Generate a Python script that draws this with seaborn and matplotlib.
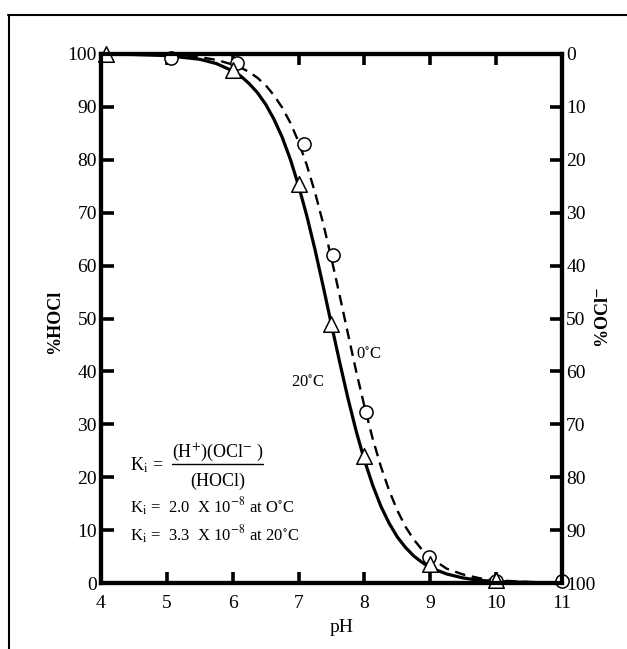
import numpy as np
import pandas as pd
import matplotlib
matplotlib.use("Agg")
import matplotlib.pyplot as plt
from matplotlib.lines import Line2D
import seaborn as sns

sns.set_style("ticks")
plt.rcParams["font.family"] = ["Liberation Serif", "DejaVu Serif"]
plt.rcParams["mathtext.fontset"] = "stix"
for k in ["text.color", "axes.labelcolor", "xtick.color", "ytick.color",
          "axes.edgecolor"]:
    plt.rcParams[k] = "black"

# ---- data ----
ph_curve = [4.0, 4.5, 5.0, 5.5, 5.75, 6.0, 6.125, 6.25, 6.375, 6.5, 6.625,
            6.75, 6.875, 7.0, 7.125, 7.25, 7.375, 7.5, 7.625, 7.75, 7.875,
            8.0, 8.125, 8.25, 8.375, 8.5, 8.625, 8.75, 8.875, 9.0, 9.25,
            9.5, 9.75, 10.0, 10.5, 11.0]
hocl_20c_curve = [100.0, 99.9, 99.7, 99.0, 98.2, 96.8, 95.8, 94.4, 92.7, 90.5,
                  87.7, 84.3, 80.1, 75.1, 69.4, 63.0, 56.0, 48.8, 41.7, 34.9,
                  28.7, 23.2, 18.5, 14.5, 11.3, 8.7, 6.7, 5.1, 3.9, 2.9, 1.7,
                  0.95, 0.5, 0.3, 0.1, 0.0]
hocl_0c_curve = [100.0, 99.9, 99.8, 99.4, 98.9, 98.0, 97.4, 96.6, 95.5, 94.1,
                 92.2, 89.9, 87.0, 83.4, 79.0, 73.8, 67.9, 61.3, 54.3, 47.1,
                 40.0, 33.4, 27.3, 22.0, 17.5, 13.7, 10.6, 8.2, 6.3, 4.8, 2.7,
                 1.6, 0.9, 0.5, 0.2, 0.0]

ph_tri = [4.08, 6.0, 7.0, 7.5, 8.0, 9.0, 10.0]
hocl_tri = [100.0, 97.0, 75.5, 49.0, 24.0, 3.5, 0.6]

ph_circ = [5.07, 6.07, 7.09, 7.53, 8.02, 8.98, 10.0, 11.0]
hocl_circ = [99.3, 98.3, 83.0, 62.0, 32.3, 5.0, 0.4, 0.4]

x_ticks = [4, 5, 6, 7, 8, 9, 10, 11]
y_ticks = [0, 10, 20, 30, 40, 50, 60, 70, 80, 90, 100]

W, H = 627, 649
fig = plt.figure(figsize=(W / 100, H / 100), dpi=100)
L, R, T, B = 101, 562, 54, 583
ax = fig.add_axes([L / W, 1 - B / H, (R - L) / W, (B - T) / H])


def fx(x):
    return x / W


def fy(y):
    return 1 - y / H


df20 = pd.DataFrame({"pH": ph_curve, "HOCl": hocl_20c_curve})
df0 = pd.DataFrame({"pH": ph_curve, "HOCl": hocl_0c_curve})

sns.lineplot(data=df20, x="pH", y="HOCl", ax=ax, color="black", lw=2.3,
             sort=False, zorder=3)
sns.lineplot(data=df0, x="pH", y="HOCl", ax=ax, color="black", lw=1.7,
             sort=False, zorder=3)
ax.lines[-1].set_linestyle((0, (4.5, 2.8)))

sns.scatterplot(x=ph_circ, y=hocl_circ, ax=ax, marker="o", s=90,
                facecolor="white", edgecolor="black", linewidth=1.1,
                zorder=6, clip_on=False)
sns.scatterplot(x=ph_tri, y=hocl_tri, ax=ax, marker="^", s=125,
                facecolor="white", edgecolor="black", linewidth=1.1,
                zorder=7, clip_on=False)

ax.set_xlim(4, 11)
ax.set_ylim(0, 100)
ax.set_xticks(x_ticks)
ax.set_yticks(y_ticks)
ax.set_xticklabels([str(t) for t in x_ticks], fontsize=14)
ax.set_yticklabels([str(t) for t in y_ticks], fontsize=14)
ax.set_xlabel("")
ax.set_ylabel("")
ax.tick_params(axis="x", direction="in", length=8, width=2.6, bottom=True,
               top=True, labeltop=False, pad=9)
ax.tick_params(axis="y", direction="in", length=9, width=2.6, left=True,
               right=False, pad=3)
for s in ax.spines.values():
    s.set_linewidth(3.0)
    s.set_visible(True)
    s.set_color("black")

ax2 = ax.twinx()
ax2.set_ylim(100, 0)
ax2.set_yticks(y_ticks)
ax2.set_yticklabels([str(t) for t in y_ticks], fontsize=14)
ax2.tick_params(axis="y", direction="in", length=9, width=2.6, right=True,
                left=False, pad=3)
for s in ax2.spines.values():
    s.set_linewidth(3.0)
    s.set_color("black")

# axis titles
fig.text(fx(55), fy(322), "%HOCl", rotation=90, ha="center", va="center",
         fontsize=13, fontweight="bold")
fig.text(fx(603), fy(318), r"%OCl$^{\mathbf{-}}$", rotation=90, ha="center",
         va="center", fontsize=13, fontweight="bold")
fig.text(fx(342), fy(628), "pH", ha="center", va="center", fontsize=14)

# curve labels
fig.text(fx(308), fy(383), r"20$^{\circ}$C", ha="center", va="center", fontsize=12)
fig.text(fx(369), fy(355), r"0$^{\circ}$C", ha="center", va="center", fontsize=12)

# equilibrium annotation
fig.text(fx(130), fy(465), r"K$_{\mathrm{i}}$ =", ha="left", va="center", fontsize=13)
fig.text(fx(218), fy(452), r"(H$^{+}$)(OCl$^{-}$ )", ha="center", va="center", fontsize=13)
fig.add_artist(Line2D([fx(172), fx(263)], [fy(464), fy(464)],
                      transform=fig.transFigure, color="black", lw=1.0))
fig.text(fx(218), fy(481), "(HOCl)", ha="center", va="center", fontsize=13)
fig.text(fx(130), fy(507), r"K$_{\mathrm{i}}$ =  2.0  X 10$^{-8}$ at O$^{\circ}$C",
         ha="left", va="center", fontsize=12)
fig.text(fx(130), fy(535), r"K$_{\mathrm{i}}$ =  3.3  X 10$^{-8}$ at 20$^{\circ}$C",
         ha="left", va="center", fontsize=12)

# outer frame
fig.add_artist(Line2D([fx(8), 1.0], [fy(15), fy(15)], transform=fig.transFigure,
                      color="black", lw=1.5))
fig.add_artist(Line2D([fx(9), fx(9)], [fy(15), 0.0], transform=fig.transFigure,
                      color="black", lw=1.5))

fig.savefig("out.png", dpi=100)
